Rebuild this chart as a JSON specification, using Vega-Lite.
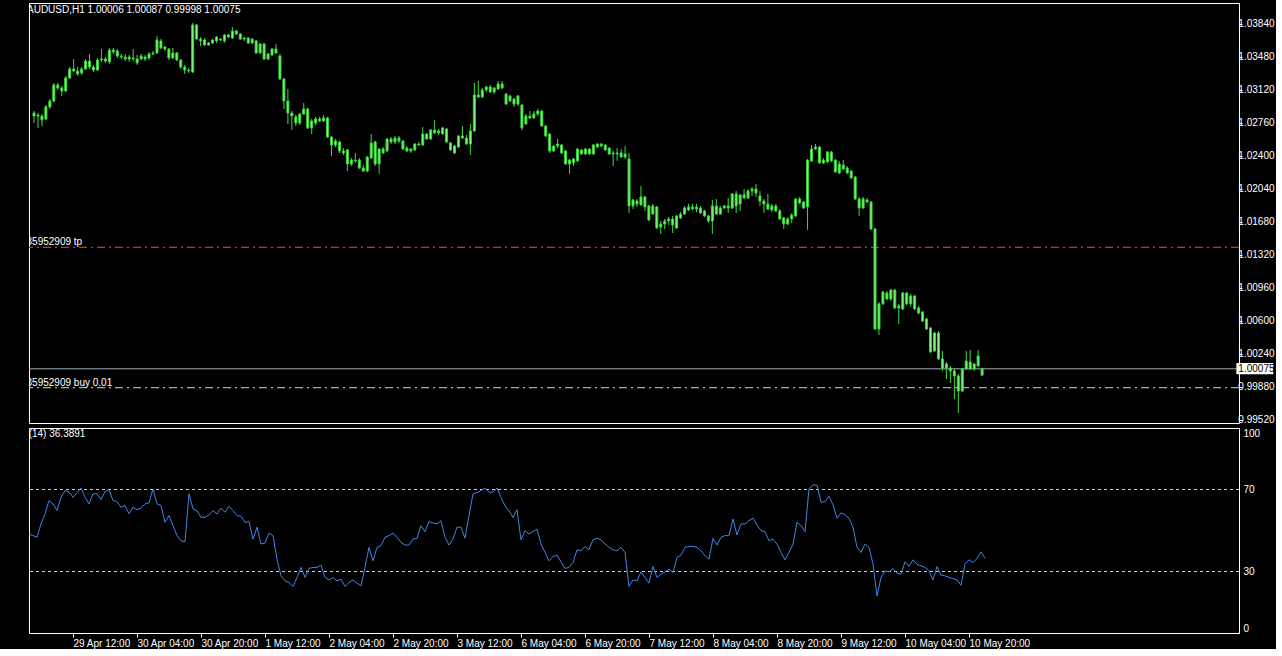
{
"$schema": "https://vega.github.io/schema/vega-lite/v6.json",
"background": "#000000",
"padding": {"left": 27, "top": 2, "right": 0, "bottom": 0},
"spacing": 5,
"bounds": "flush",
"config": {
  "view": {"stroke": "#ffffff", "strokeWidth": 1},
  "axis": {"labelFont": "Liberation Sans", "labelFontSize": 10, "labelColor": "#ffffff", "tickColor": "#ffffff", "domain": false, "grid": false, "title": null, "labelOverlap": false},
  "text": {"font": "Liberation Sans", "fontSize": 10, "color": "#ffffff"}
},
"datasets": {
"bars": [
{"i":0,"o":1.02866,"h":1.02888,"l":1.02757,"c":1.02833,"r":48.3},
{"i":1,"o":1.02833,"h":1.02866,"l":1.02703,"c":1.02844,"r":47.5},
{"i":2,"o":1.02833,"h":1.02855,"l":1.02724,"c":1.02790,"r":46.7},
{"i":3,"o":1.02801,"h":1.02953,"l":1.02790,"c":1.02932,"r":53.2},
{"i":4,"o":1.02932,"h":1.03019,"l":1.02910,"c":1.02997,"r":58},
{"i":5,"o":1.02997,"h":1.03193,"l":1.02986,"c":1.03172,"r":64.6},
{"i":6,"o":1.03172,"h":1.03193,"l":1.03117,"c":1.03139,"r":63},
{"i":7,"o":1.03139,"h":1.03161,"l":1.03052,"c":1.03106,"r":59.7},
{"i":8,"o":1.03106,"h":1.03270,"l":1.03095,"c":1.03248,"r":66.2},
{"i":9,"o":1.03248,"h":1.03368,"l":1.03237,"c":1.03346,"r":69.5},
{"i":10,"o":1.03346,"h":1.03455,"l":1.03313,"c":1.03324,"r":68.7},
{"i":11,"o":1.03324,"h":1.03368,"l":1.03270,"c":1.03292,"r":66.2},
{"i":12,"o":1.03303,"h":1.03368,"l":1.03281,"c":1.03346,"r":68.4},
{"i":13,"o":1.03346,"h":1.03455,"l":1.03335,"c":1.03433,"r":70.7},
{"i":14,"o":1.03433,"h":1.03510,"l":1.03346,"c":1.03368,"r":66.2},
{"i":15,"o":1.03368,"h":1.03390,"l":1.03313,"c":1.03335,"r":63},
{"i":16,"o":1.03335,"h":1.03466,"l":1.03324,"c":1.03444,"r":67.9},
{"i":17,"o":1.03444,"h":1.03564,"l":1.03423,"c":1.03455,"r":67.9},
{"i":18,"o":1.03455,"h":1.03477,"l":1.03412,"c":1.03433,"r":65.1},
{"i":19,"o":1.03423,"h":1.03575,"l":1.03401,"c":1.03553,"r":69},
{"i":20,"o":1.03553,"h":1.03575,"l":1.03510,"c":1.03532,"r":70},
{"i":21,"o":1.03543,"h":1.03564,"l":1.03466,"c":1.03488,"r":64.6},
{"i":22,"o":1.03488,"h":1.03510,"l":1.03455,"c":1.03477,"r":64.1},
{"i":23,"o":1.03477,"h":1.03510,"l":1.03433,"c":1.03455,"r":61.3},
{"i":24,"o":1.03455,"h":1.03499,"l":1.03423,"c":1.03477,"r":62.2},
{"i":25,"o":1.03466,"h":1.03564,"l":1.03433,"c":1.03455,"r":58.1},
{"i":26,"o":1.03455,"h":1.03499,"l":1.03390,"c":1.03412,"r":61.3},
{"i":27,"o":1.03455,"h":1.03510,"l":1.03444,"c":1.03488,"r":60.2},
{"i":28,"o":1.03477,"h":1.03499,"l":1.03433,"c":1.03455,"r":60.9},
{"i":29,"o":1.03466,"h":1.03532,"l":1.03444,"c":1.03510,"r":63},
{"i":30,"o":1.03510,"h":1.03543,"l":1.03499,"c":1.03521,"r":63.5},
{"i":31,"o":1.03521,"h":1.03706,"l":1.03510,"c":1.03663,"r":70.3},
{"i":32,"o":1.03652,"h":1.03673,"l":1.03564,"c":1.03575,"r":63},
{"i":33,"o":1.03586,"h":1.03597,"l":1.03543,"c":1.03564,"r":62.2},
{"i":34,"o":1.03564,"h":1.03575,"l":1.03444,"c":1.03466,"r":54},
{"i":35,"o":1.03466,"h":1.03575,"l":1.03455,"c":1.03521,"r":57.3},
{"i":36,"o":1.03521,"h":1.03532,"l":1.03433,"c":1.03444,"r":52.4},
{"i":37,"o":1.03444,"h":1.03455,"l":1.03346,"c":1.03368,"r":47.5},
{"i":38,"o":1.03368,"h":1.03390,"l":1.03292,"c":1.03335,"r":45},
{"i":39,"o":1.03335,"h":1.03357,"l":1.03303,"c":1.03324,"r":44.5},
{"i":40,"o":1.03313,"h":1.03848,"l":1.03303,"c":1.03826,"r":67.9},
{"i":41,"o":1.03826,"h":1.03837,"l":1.03663,"c":1.03673,"r":60.5},
{"i":42,"o":1.03673,"h":1.03695,"l":1.03597,"c":1.03652,"r":59.7},
{"i":43,"o":1.03663,"h":1.03684,"l":1.03597,"c":1.03608,"r":56.4},
{"i":44,"o":1.03608,"h":1.03641,"l":1.03597,"c":1.03630,"r":56.4},
{"i":45,"o":1.03630,"h":1.03673,"l":1.03619,"c":1.03663,"r":57.6},
{"i":46,"o":1.03652,"h":1.03706,"l":1.03630,"c":1.03695,"r":59.7},
{"i":47,"o":1.03673,"h":1.03684,"l":1.03652,"c":1.03663,"r":58.1},
{"i":48,"o":1.03652,"h":1.03728,"l":1.03630,"c":1.03717,"r":60.9},
{"i":49,"o":1.03717,"h":1.03728,"l":1.03684,"c":1.03695,"r":58.9},
{"i":50,"o":1.03684,"h":1.03804,"l":1.03673,"c":1.03761,"r":61.8},
{"i":51,"o":1.03761,"h":1.03772,"l":1.03717,"c":1.03728,"r":59.7},
{"i":52,"o":1.03728,"h":1.03739,"l":1.03663,"c":1.03673,"r":57.3},
{"i":53,"o":1.03684,"h":1.03695,"l":1.03652,"c":1.03673,"r":56.9},
{"i":54,"o":1.03684,"h":1.03695,"l":1.03619,"c":1.03630,"r":54},
{"i":55,"o":1.03630,"h":1.03684,"l":1.03619,"c":1.03673,"r":54.3},
{"i":56,"o":1.03652,"h":1.03663,"l":1.03510,"c":1.03521,"r":45.8},
{"i":57,"o":1.03521,"h":1.03630,"l":1.03510,"c":1.03619,"r":51.6},
{"i":58,"o":1.03619,"h":1.03630,"l":1.03444,"c":1.03455,"r":43.4},
{"i":59,"o":1.03455,"h":1.03521,"l":1.03444,"c":1.03510,"r":43.9},
{"i":60,"o":1.03499,"h":1.03575,"l":1.03488,"c":1.03564,"r":48.8},
{"i":61,"o":1.03564,"h":1.03619,"l":1.03510,"c":1.03521,"r":47.5},
{"i":62,"o":1.03488,"h":1.03510,"l":1.03226,"c":1.03237,"r":36},
{"i":63,"o":1.03237,"h":1.03248,"l":1.02910,"c":1.02997,"r":27.9},
{"i":64,"o":1.02997,"h":1.03128,"l":1.02746,"c":1.02866,"r":25.4},
{"i":65,"o":1.02866,"h":1.02888,"l":1.02681,"c":1.02833,"r":24.6},
{"i":66,"o":1.02823,"h":1.02844,"l":1.02724,"c":1.02757,"r":22.7},
{"i":67,"o":1.02757,"h":1.02866,"l":1.02735,"c":1.02855,"r":27.1},
{"i":68,"o":1.02855,"h":1.02975,"l":1.02844,"c":1.02910,"r":32},
{"i":69,"o":1.02910,"h":1.02921,"l":1.02692,"c":1.02703,"r":27.1},
{"i":70,"o":1.02703,"h":1.02801,"l":1.02637,"c":1.02779,"r":31.5},
{"i":71,"o":1.02757,"h":1.02823,"l":1.02735,"c":1.02801,"r":32},
{"i":72,"o":1.02801,"h":1.02823,"l":1.02768,"c":1.02779,"r":32},
{"i":73,"o":1.02779,"h":1.02844,"l":1.02768,"c":1.02812,"r":33.1},
{"i":74,"o":1.02812,"h":1.02823,"l":1.02593,"c":1.02604,"r":27.1},
{"i":75,"o":1.02604,"h":1.02615,"l":1.02397,"c":1.02517,"r":25.9},
{"i":76,"o":1.02517,"h":1.02583,"l":1.02495,"c":1.02561,"r":27.1},
{"i":77,"o":1.02550,"h":1.02561,"l":1.02430,"c":1.02452,"r":25.4},
{"i":78,"o":1.02452,"h":1.02484,"l":1.02408,"c":1.02430,"r":26.2},
{"i":79,"o":1.02463,"h":1.02473,"l":1.02233,"c":1.02310,"r":22.7},
{"i":80,"o":1.02310,"h":1.02375,"l":1.02288,"c":1.02353,"r":24.6},
{"i":81,"o":1.02353,"h":1.02430,"l":1.02321,"c":1.02343,"r":25.9},
{"i":82,"o":1.02353,"h":1.02375,"l":1.02255,"c":1.02266,"r":24.3},
{"i":83,"o":1.02266,"h":1.02299,"l":1.02223,"c":1.02233,"r":23},
{"i":84,"o":1.02233,"h":1.02397,"l":1.02223,"c":1.02386,"r":32},
{"i":85,"o":1.02375,"h":1.02637,"l":1.02364,"c":1.02539,"r":41.8},
{"i":86,"o":1.02550,"h":1.02561,"l":1.02288,"c":1.02310,"r":35.2},
{"i":87,"o":1.02310,"h":1.02484,"l":1.02201,"c":1.02473,"r":41.8},
{"i":88,"o":1.02473,"h":1.02495,"l":1.02419,"c":1.02430,"r":42.6},
{"i":89,"o":1.02452,"h":1.02593,"l":1.02441,"c":1.02583,"r":46.7},
{"i":90,"o":1.02583,"h":1.02604,"l":1.02528,"c":1.02550,"r":47.5},
{"i":91,"o":1.02550,"h":1.02615,"l":1.02528,"c":1.02593,"r":48.8},
{"i":92,"o":1.02593,"h":1.02615,"l":1.02539,"c":1.02561,"r":46.7},
{"i":93,"o":1.02561,"h":1.02572,"l":1.02463,"c":1.02473,"r":44.2},
{"i":94,"o":1.02484,"h":1.02506,"l":1.02441,"c":1.02452,"r":42.9},
{"i":95,"o":1.02452,"h":1.02484,"l":1.02430,"c":1.02473,"r":42.9},
{"i":96,"o":1.02463,"h":1.02539,"l":1.02452,"c":1.02528,"r":45.8},
{"i":97,"o":1.02528,"h":1.02550,"l":1.02506,"c":1.02517,"r":46.2},
{"i":98,"o":1.02517,"h":1.02713,"l":1.02506,"c":1.02637,"r":52.4},
{"i":99,"o":1.02637,"h":1.02648,"l":1.02572,"c":1.02583,"r":49.4},
{"i":100,"o":1.02583,"h":1.02692,"l":1.02572,"c":1.02681,"r":54.3},
{"i":101,"o":1.02681,"h":1.02790,"l":1.02637,"c":1.02648,"r":53.7},
{"i":102,"o":1.02648,"h":1.02692,"l":1.02626,"c":1.02670,"r":53.2},
{"i":103,"o":1.02637,"h":1.02713,"l":1.02626,"c":1.02703,"r":54.8},
{"i":104,"o":1.02692,"h":1.02703,"l":1.02539,"c":1.02550,"r":46.7},
{"i":105,"o":1.02539,"h":1.02550,"l":1.02452,"c":1.02463,"r":42.9},
{"i":106,"o":1.02506,"h":1.02517,"l":1.02419,"c":1.02430,"r":45.8},
{"i":107,"o":1.02495,"h":1.02626,"l":1.02484,"c":1.02615,"r":51.6},
{"i":108,"o":1.02615,"h":1.02724,"l":1.02583,"c":1.02593,"r":51.6},
{"i":109,"o":1.02593,"h":1.02626,"l":1.02517,"c":1.02528,"r":46.2},
{"i":110,"o":1.02528,"h":1.02746,"l":1.02408,"c":1.02670,"r":57.3},
{"i":111,"o":1.02670,"h":1.03193,"l":1.02659,"c":1.03063,"r":67.9},
{"i":112,"o":1.03063,"h":1.03215,"l":1.03030,"c":1.03041,"r":68.4},
{"i":113,"o":1.03041,"h":1.03139,"l":1.03030,"c":1.03117,"r":69.5},
{"i":114,"o":1.03117,"h":1.03161,"l":1.03095,"c":1.03150,"r":70.7},
{"i":115,"o":1.03150,"h":1.03172,"l":1.03084,"c":1.03095,"r":68.7},
{"i":116,"o":1.03095,"h":1.03150,"l":1.03073,"c":1.03139,"r":68.7},
{"i":117,"o":1.03128,"h":1.03215,"l":1.03117,"c":1.03183,"r":70.7},
{"i":118,"o":1.03183,"h":1.03215,"l":1.03128,"c":1.03139,"r":66.2},
{"i":119,"o":1.03073,"h":1.03084,"l":1.02953,"c":1.02964,"r":62},
{"i":120,"o":1.02997,"h":1.03063,"l":1.02986,"c":1.03052,"r":59.7},
{"i":121,"o":1.03019,"h":1.03030,"l":1.02932,"c":1.02964,"r":56.4},
{"i":122,"o":1.02964,"h":1.03063,"l":1.02943,"c":1.03052,"r":60.2},
{"i":123,"o":1.02953,"h":1.02964,"l":1.02681,"c":1.02703,"r":45.5},
{"i":124,"o":1.02746,"h":1.02855,"l":1.02735,"c":1.02833,"r":49.9},
{"i":125,"o":1.02833,"h":1.02888,"l":1.02801,"c":1.02812,"r":48.3},
{"i":126,"o":1.02812,"h":1.02888,"l":1.02801,"c":1.02855,"r":49.4},
{"i":127,"o":1.02855,"h":1.02910,"l":1.02833,"c":1.02888,"r":50.7},
{"i":128,"o":1.02888,"h":1.02899,"l":1.02713,"c":1.02724,"r":43.4},
{"i":129,"o":1.02724,"h":1.02735,"l":1.02604,"c":1.02615,"r":39.3},
{"i":130,"o":1.02637,"h":1.02648,"l":1.02430,"c":1.02452,"r":35.2},
{"i":131,"o":1.02452,"h":1.02517,"l":1.02441,"c":1.02506,"r":37.3},
{"i":132,"o":1.02506,"h":1.02583,"l":1.02484,"c":1.02528,"r":38},
{"i":133,"o":1.02517,"h":1.02528,"l":1.02419,"c":1.02430,"r":34.7},
{"i":134,"o":1.02452,"h":1.02463,"l":1.02299,"c":1.02310,"r":31.5},
{"i":135,"o":1.02310,"h":1.02364,"l":1.02201,"c":1.02353,"r":32},
{"i":136,"o":1.02321,"h":1.02375,"l":1.02288,"c":1.02364,"r":34.4},
{"i":137,"o":1.02343,"h":1.02484,"l":1.02332,"c":1.02473,"r":40.6},
{"i":138,"o":1.02463,"h":1.02473,"l":1.02408,"c":1.02419,"r":40.1},
{"i":139,"o":1.02419,"h":1.02484,"l":1.02408,"c":1.02473,"r":42.2},
{"i":140,"o":1.02473,"h":1.02484,"l":1.02408,"c":1.02419,"r":40.6},
{"i":141,"o":1.02419,"h":1.02528,"l":1.02408,"c":1.02517,"r":45.5},
{"i":142,"o":1.02495,"h":1.02539,"l":1.02484,"c":1.02528,"r":46.2},
{"i":143,"o":1.02528,"h":1.02539,"l":1.02495,"c":1.02506,"r":45.5},
{"i":144,"o":1.02517,"h":1.02528,"l":1.02452,"c":1.02463,"r":43.4},
{"i":145,"o":1.02484,"h":1.02495,"l":1.02408,"c":1.02419,"r":41.8},
{"i":146,"o":1.02419,"h":1.02452,"l":1.02288,"c":1.02430,"r":40.6},
{"i":147,"o":1.02430,"h":1.02484,"l":1.02343,"c":1.02419,"r":40.1},
{"i":148,"o":1.02386,"h":1.02473,"l":1.02375,"c":1.02430,"r":41.8},
{"i":149,"o":1.02419,"h":1.02506,"l":1.02364,"c":1.02386,"r":39.3},
{"i":150,"o":1.02364,"h":1.02430,"l":1.01775,"c":1.01852,"r":22.7},
{"i":151,"o":1.01852,"h":1.01928,"l":1.01819,"c":1.01917,"r":25.9},
{"i":152,"o":1.01906,"h":1.01928,"l":1.01841,"c":1.01873,"r":25.4},
{"i":153,"o":1.01863,"h":1.02070,"l":1.01852,"c":1.01950,"r":29.8},
{"i":154,"o":1.01950,"h":1.01961,"l":1.01797,"c":1.01841,"r":27.1},
{"i":155,"o":1.01852,"h":1.01863,"l":1.01688,"c":1.01699,"r":24.3},
{"i":156,"o":1.01764,"h":1.01873,"l":1.01753,"c":1.01852,"r":32.4},
{"i":157,"o":1.01841,"h":1.01852,"l":1.01601,"c":1.01612,"r":27.1},
{"i":158,"o":1.01623,"h":1.01688,"l":1.01546,"c":1.01655,"r":28.7},
{"i":159,"o":1.01655,"h":1.01710,"l":1.01601,"c":1.01688,"r":29.8},
{"i":160,"o":1.01688,"h":1.01732,"l":1.01644,"c":1.01710,"r":31.1},
{"i":161,"o":1.01710,"h":1.01743,"l":1.01557,"c":1.01644,"r":29.5},
{"i":162,"o":1.01612,"h":1.01753,"l":1.01601,"c":1.01743,"r":36.9},
{"i":163,"o":1.01721,"h":1.01786,"l":1.01710,"c":1.01764,"r":38},
{"i":164,"o":1.01764,"h":1.01852,"l":1.01753,"c":1.01830,"r":41.8},
{"i":165,"o":1.01808,"h":1.01873,"l":1.01797,"c":1.01841,"r":42.2},
{"i":166,"o":1.01841,"h":1.01873,"l":1.01808,"c":1.01819,"r":42.2},
{"i":167,"o":1.01819,"h":1.01873,"l":1.01786,"c":1.01841,"r":41.8},
{"i":168,"o":1.01830,"h":1.01852,"l":1.01764,"c":1.01775,"r":40.1},
{"i":169,"o":1.01797,"h":1.01808,"l":1.01732,"c":1.01743,"r":37.7},
{"i":170,"o":1.01743,"h":1.01753,"l":1.01666,"c":1.01688,"r":36},
{"i":171,"o":1.01688,"h":1.01917,"l":1.01546,"c":1.01852,"r":46.2},
{"i":172,"o":1.01852,"h":1.01928,"l":1.01753,"c":1.01764,"r":42.9},
{"i":173,"o":1.01764,"h":1.01852,"l":1.01753,"c":1.01830,"r":46.7},
{"i":174,"o":1.01830,"h":1.01863,"l":1.01819,"c":1.01852,"r":47.5},
{"i":175,"o":1.01852,"h":1.01939,"l":1.01775,"c":1.01830,"r":47.5},
{"i":176,"o":1.01830,"h":1.01993,"l":1.01819,"c":1.01983,"r":55.6},
{"i":177,"o":1.01983,"h":1.02015,"l":1.01775,"c":1.01852,"r":47.8},
{"i":178,"o":1.01873,"h":1.01983,"l":1.01797,"c":1.01972,"r":53.2},
{"i":179,"o":1.01972,"h":1.02037,"l":1.01928,"c":1.01939,"r":53.2},
{"i":180,"o":1.01939,"h":1.02037,"l":1.01928,"c":1.02015,"r":54.8},
{"i":181,"o":1.02015,"h":1.02059,"l":1.01961,"c":1.02037,"r":56},
{"i":182,"o":1.02037,"h":1.02092,"l":1.01950,"c":1.01993,"r":52.7},
{"i":183,"o":1.01961,"h":1.02015,"l":1.01852,"c":1.01906,"r":49.9},
{"i":184,"o":1.01906,"h":1.01928,"l":1.01775,"c":1.01873,"r":49.4},
{"i":185,"o":1.01873,"h":1.01983,"l":1.01808,"c":1.01819,"r":45},
{"i":186,"o":1.01808,"h":1.01873,"l":1.01786,"c":1.01852,"r":45.8},
{"i":187,"o":1.01852,"h":1.01873,"l":1.01786,"c":1.01797,"r":43.4},
{"i":188,"o":1.01797,"h":1.01819,"l":1.01699,"c":1.01710,"r":39.3},
{"i":189,"o":1.01721,"h":1.01732,"l":1.01601,"c":1.01655,"r":35.7},
{"i":190,"o":1.01655,"h":1.01732,"l":1.01644,"c":1.01710,"r":39.3},
{"i":191,"o":1.01710,"h":1.01775,"l":1.01666,"c":1.01753,"r":43.4},
{"i":192,"o":1.01743,"h":1.01939,"l":1.01732,"c":1.01928,"r":54},
{"i":193,"o":1.01928,"h":1.01950,"l":1.01873,"c":1.01884,"r":52.4},
{"i":194,"o":1.01895,"h":1.01906,"l":1.01819,"c":1.01830,"r":49.4},
{"i":195,"o":1.01841,"h":1.02364,"l":1.01590,"c":1.02353,"r":70.3},
{"i":196,"o":1.02343,"h":1.02517,"l":1.02332,"c":1.02473,"r":72.3},
{"i":197,"o":1.02473,"h":1.02528,"l":1.02463,"c":1.02495,"r":72},
{"i":198,"o":1.02495,"h":1.02506,"l":1.02310,"c":1.02321,"r":63.8},
{"i":199,"o":1.02321,"h":1.02375,"l":1.02310,"c":1.02353,"r":64.1},
{"i":200,"o":1.02332,"h":1.02452,"l":1.02321,"c":1.02441,"r":66.7},
{"i":201,"o":1.02441,"h":1.02452,"l":1.02332,"c":1.02343,"r":62.5},
{"i":202,"o":1.02353,"h":1.02364,"l":1.02212,"c":1.02223,"r":56},
{"i":203,"o":1.02212,"h":1.02343,"l":1.02201,"c":1.02310,"r":58.6},
{"i":204,"o":1.02299,"h":1.02353,"l":1.02244,"c":1.02255,"r":57.6},
{"i":205,"o":1.02266,"h":1.02288,"l":1.02201,"c":1.02212,"r":56},
{"i":206,"o":1.02233,"h":1.02244,"l":1.02146,"c":1.02157,"r":51.6},
{"i":207,"o":1.02168,"h":1.02179,"l":1.01917,"c":1.01928,"r":41.8},
{"i":208,"o":1.01928,"h":1.01950,"l":1.01743,"c":1.01830,"r":39.3},
{"i":209,"o":1.01830,"h":1.01950,"l":1.01819,"c":1.01928,"r":43.4},
{"i":210,"o":1.01917,"h":1.01939,"l":1.01884,"c":1.01895,"r":41.8},
{"i":211,"o":1.01895,"h":1.01906,"l":1.01590,"c":1.01601,"r":33.6},
{"i":212,"o":1.01601,"h":1.01612,"l":1.00499,"c":1.00510,"r":18.1},
{"i":213,"o":1.00510,"h":1.00804,"l":1.00444,"c":1.00783,"r":27.1},
{"i":214,"o":1.00783,"h":1.00924,"l":1.00772,"c":1.00913,"r":30.3},
{"i":215,"o":1.00903,"h":1.00924,"l":1.00826,"c":1.00837,"r":29.8},
{"i":216,"o":1.00837,"h":1.00946,"l":1.00815,"c":1.00935,"r":31.5},
{"i":217,"o":1.00935,"h":1.00946,"l":1.00728,"c":1.00739,"r":29.2},
{"i":218,"o":1.00739,"h":1.00783,"l":1.00564,"c":1.00761,"r":28.7},
{"i":219,"o":1.00728,"h":1.00913,"l":1.00717,"c":1.00903,"r":34.7},
{"i":220,"o":1.00903,"h":1.00913,"l":1.00772,"c":1.00783,"r":32.4},
{"i":221,"o":1.00783,"h":1.00892,"l":1.00750,"c":1.00870,"r":35.7},
{"i":222,"o":1.00870,"h":1.00881,"l":1.00717,"c":1.00728,"r":33.6},
{"i":223,"o":1.00739,"h":1.00761,"l":1.00673,"c":1.00684,"r":32.8},
{"i":224,"o":1.00695,"h":1.00706,"l":1.00586,"c":1.00597,"r":32},
{"i":225,"o":1.00619,"h":1.00630,"l":1.00499,"c":1.00510,"r":30.3},
{"i":226,"o":1.00521,"h":1.00532,"l":1.00248,"c":1.00259,"r":25.9},
{"i":227,"o":1.00270,"h":1.00477,"l":1.00259,"c":1.00466,"r":32.4},
{"i":228,"o":1.00466,"h":1.00488,"l":1.00172,"c":1.00183,"r":28.2},
{"i":229,"o":1.00183,"h":1.00270,"l":1.00052,"c":1.00084,"r":27.9},
{"i":230,"o":1.00128,"h":1.00150,"l":0.99964,"c":1.00084,"r":27.1},
{"i":231,"o":1.00084,"h":1.00106,"l":0.99921,"c":1.00052,"r":26.6},
{"i":232,"o":1.00052,"h":1.00073,"l":0.99746,"c":0.99997,"r":25.9},
{"i":233,"o":0.99997,"h":1.00019,"l":0.99593,"c":0.99833,"r":23.3},
{"i":234,"o":0.99833,"h":1.00084,"l":0.99822,"c":1.00073,"r":33.6},
{"i":235,"o":1.00073,"h":1.00270,"l":1.00063,"c":1.00161,"r":35.7},
{"i":236,"o":1.00150,"h":1.00281,"l":1.00063,"c":1.00073,"r":34.4},
{"i":237,"o":1.00073,"h":1.00139,"l":1.00052,"c":1.00128,"r":36.4},
{"i":238,"o":1.00106,"h":1.00281,"l":1.00095,"c":1.00215,"r":39.6},
{"i":239,"o":1.00006,"h":1.00087,"l":0.99998,"c":1.00075,"r":36.3891}
],
"ticks": [
{"p": 1.0384, "t": "1.03840"},
{"p": 1.0348, "t": "1.03480"},
{"p": 1.0312, "t": "1.03120"},
{"p": 1.0276, "t": "1.02760"},
{"p": 1.0240, "t": "1.02400"},
{"p": 1.0204, "t": "1.02040"},
{"p": 1.0168, "t": "1.01680"},
{"p": 1.0132, "t": "1.01320"},
{"p": 1.0096, "t": "1.00960"},
{"p": 1.0060, "t": "1.00600"},
{"p": 1.0024, "t": "1.00240"},
{"p": 0.9988, "t": "0.99880"},
{"p": 0.9952, "t": "0.99520"}
]
},
"vconcat": [
{
  "width": 1210,
  "height": 420,
  "encoding": {
    "y": {"type": "quantitative", "scale": {"domain": [0.99484, 1.04066], "nice": false, "zero": false},
          "axis": {"orient": "right", "values": [0.9952, 0.9988, 1.0024, 1.006, 1.0096, 1.0132, 1.0168, 1.0204, 1.024, 1.0276, 1.0312, 1.0348, 1.0384], "labels": false, "tickSize": 3}}
  },
  "layer": [
    {
      "data": {"values": [{"p": 1.0140}]},
      "mark": {"type": "rule", "color": "#e02828", "strokeWidth": 1.2, "strokeDash": [8, 4, 2, 4]},
      "encoding": {"y": {"field": "p", "type": "quantitative"}}
    },
    {
      "data": {"values": [{"p": 0.9987}]},
      "mark": {"type": "rule", "color": "#7fc87f", "strokeWidth": 1.2, "strokeDash": [8, 4, 2, 4]},
      "encoding": {"y": {"field": "p", "type": "quantitative"}}
    },
    {
      "data": {"values": [{"p": 1.00075}]},
      "mark": {"type": "rule", "color": "#a4acb8", "strokeWidth": 1},
      "encoding": {"y": {"field": "p", "type": "quantitative"}}
    },
    {
      "data": {"name": "bars"},
      "mark": {"type": "rule", "color": "#3ddc3d", "strokeWidth": 1, "clip": true},
      "encoding": {
        "x": {"field": "i", "type": "quantitative", "scale": {"domain": [0, 302.5], "nice": false, "zero": false}, "axis": null},
        "y": {"field": "l", "type": "quantitative"},
        "y2": {"field": "h"}
      }
    },
    {
      "data": {"name": "bars"},
      "mark": {"type": "bar", "width": 2, "fill": "#8cf58c", "stroke": "#33d633", "strokeWidth": 1, "clip": true},
      "encoding": {
        "x": {"field": "i", "type": "quantitative"},
        "y": {"field": "o", "type": "quantitative"},
        "y2": {"field": "c"}
      }
    },
    {
      "data": {"values": [
        {"i": 0, "p": 1.0399, "t": "AUDUSD,H1  1.00006 1.00087 0.99998 1.00075"}
      ]},
      "mark": {"type": "text", "align": "left", "baseline": "middle", "dx": -7, "clip": true},
      "encoding": {
        "x": {"field": "i", "type": "quantitative"},
        "y": {"field": "p", "type": "quantitative"},
        "text": {"field": "t"}
      }
    },
    {
      "data": {"values": [
        {"i": 0, "p": 1.0140, "t": "#35952909 tp"},
        {"i": 0, "p": 0.9987, "t": "#35952909 buy 0.01"}
      ]},
      "mark": {"type": "text", "align": "left", "baseline": "alphabetic", "dx": -13, "dy": -2, "clip": true},
      "encoding": {
        "x": {"field": "i", "type": "quantitative"},
        "y": {"field": "p", "type": "quantitative"},
        "text": {"field": "t"}
      }
    },
    {
      "data": {"name": "ticks"},
      "mark": {"type": "text", "align": "left", "baseline": "middle", "clip": false},
      "encoding": {
        "x": {"datum": 303.6},
        "y": {"field": "p", "type": "quantitative"},
        "text": {"field": "t"}
      }
    },
    {
      "data": {"values": [{"x1": 303.1, "x2": 312.4, "p1": 1.00139, "p2": 1.00015}]},
      "mark": {"type": "rect", "fill": "#ffffff", "clip": false},
      "encoding": {
        "x": {"field": "x1", "type": "quantitative"},
        "x2": {"field": "x2"},
        "y": {"field": "p1", "type": "quantitative"},
        "y2": {"field": "p2"}
      }
    },
    {
      "data": {"values": [{"x1": 303.6, "p": 1.00077, "t": "1.00075"}]},
      "mark": {"type": "text", "align": "left", "baseline": "middle", "color": "#000000", "clip": false},
      "encoding": {
        "x": {"field": "x1", "type": "quantitative"},
        "y": {"field": "p", "type": "quantitative"},
        "text": {"field": "t"}
      }
    }
  ]
},
{
  "width": 1210,
  "height": 205,
  "layer": [
    {
      "data": {"values": [{"v": 70}, {"v": 30}]},
      "mark": {"type": "rule", "color": "#cfcfcf", "strokeWidth": 1, "strokeDash": [3, 3]},
      "encoding": {"y": {"field": "v", "type": "quantitative"}}
    },
    {
      "data": {"name": "bars"},
      "mark": {"type": "line", "color": "#3f86e6", "strokeWidth": 1, "clip": true},
      "encoding": {
        "x": {"field": "i", "type": "quantitative", "scale": {"domain": [0, 302.5], "nice": false, "zero": false},
              "axis": {"orient": "bottom", "values": [11, 27, 43, 59, 75, 91, 107, 123, 139, 155, 171, 187, 203, 219, 235],
                       "labelExpr": "['29 Apr 12:00','30 Apr 04:00','30 Apr 20:00','1 May 12:00','2 May 04:00','2 May 20:00','3 May 12:00','6 May 04:00','6 May 20:00','7 May 12:00','8 May 04:00','8 May 20:00','9 May 12:00','10 May 04:00','10 May 20:00'][round((datum.value - 11) / 16)]",
                       "labelAlign": "left", "labelBaseline": "top", "tickSize": 4, "labelPadding": 1, "labelFlush": false, "labelOverlap": false}},
        "y": {"field": "r", "type": "quantitative", "scale": {"domain": [0, 100], "nice": false, "zero": false},
              "axis": {"orient": "right", "values": [0, 30, 70, 100], "ticks": false, "labelFlush": true, "labelPadding": 4, "labelOverlap": false}}
      }
    },
    {
      "data": {"values": [{"i": 0, "v": 97, "t": "RSI(14) 36.3891"}]},
      "mark": {"type": "text", "align": "left", "baseline": "middle", "dx": -17, "clip": true},
      "encoding": {
        "x": {"field": "i", "type": "quantitative"},
        "y": {"field": "v", "type": "quantitative"},
        "text": {"field": "t"}
      }
    }
  ]
}
]
}
